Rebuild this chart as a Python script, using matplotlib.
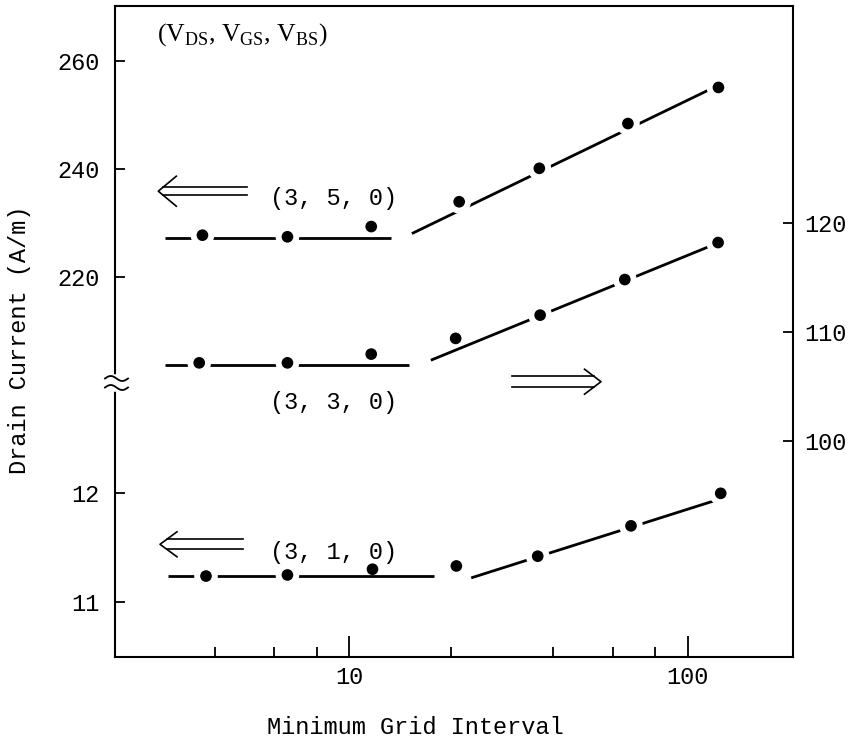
import numpy as np
import matplotlib
matplotlib.use("Agg")
import matplotlib.pyplot as plt
from matplotlib.lines import Line2D
from matplotlib.ticker import FixedLocator, FixedFormatter, NullFormatter

# ---------------- data ----------------
# minimum grid interval (x) for each series
x_350 = [3.68, 6.56, 11.6, 21.1, 36.4, 66.5, 123.1]
x_330 = [3.60, 6.56, 11.6, 20.6, 36.6, 65.1, 122.8]
x_310 = [3.77, 6.56, 11.7, 20.7, 36.0, 67.9, 125.0]

# drain current values
i_350 = [227.7, 227.4, 229.3, 233.9, 240.1, 248.4, 255.1]      # left upper scale (A/m)
i_330 = [107.16, 107.16, 107.96, 109.40, 111.53, 114.79, 118.18]  # right scale (A/m)
i_310 = [11.237, 11.247, 11.30, 11.33, 11.42, 11.70, 12.00]    # left lower scale (A/m)

# guide lines: flat part (x range, level) and sloped part (x pair, y pair)
flat_350_x, flat_350_y = [2.85, 13.3], [227.2, 227.2]
slope_350_x, slope_350_y = [15.3, 123.1], [228.0, 255.5]
flat_330_x, flat_330_y = [2.85, 15.0], [107.0, 107.0]
slope_330_x, slope_330_y = [17.4, 122.8], [107.4, 118.15]
flat_310_x, flat_310_y = [2.91, 17.8], [11.24, 11.24]
slope_310_x, slope_310_y = [22.9, 125.0], [11.22, 11.95]

labels = ["(3, 5, 0)", "(3, 3, 0)", "(3, 1, 0)"]

x_major = [10, 100]
x_major_labels = ["10", "100"]
x_minor = [4, 6, 8, 20, 40, 60, 80]
y_upper_ticks = [220, 240, 260]
y_lower_ticks = [11, 12]
y_right_ticks = [100, 110, 120]

# ---------------- style ----------------
plt.rcParams["font.family"] = ["Liberation Mono", "DejaVu Sans Mono"]
plt.rcParams["mathtext.fontset"] = "custom"
plt.rcParams["mathtext.rm"] = "Liberation Serif"
FS = 17
W, H = 850, 743
fig = plt.figure(figsize=(8.5, 7.43), dpi=100)
L, R, T, B = 115, 792.7, 6, 656.7
ax = fig.add_axes([L / W, 1 - B / H, (R - L) / W, (B - T) / H])
axC = ax.twinx()
axB = ax.twinx()

ax.set_xscale("log")
ax.set_xlim(2.03, 204)
ax.set_ylim(149.53, 270.2)
axC.set_ylim(10.493, 16.495)
axB.set_ylim(80.24, 139.85)

for a in (axC, axB):
    for s in a.spines.values():
        s.set_visible(False)
for s in ax.spines.values():
    s.set_linewidth(1.5)

# x ticks
ax.xaxis.set_major_locator(FixedLocator(x_major))
ax.xaxis.set_major_formatter(FixedFormatter(x_major_labels))
ax.xaxis.set_minor_locator(FixedLocator(x_minor))
ax.xaxis.set_minor_formatter(NullFormatter())
ax.tick_params(axis="x", which="major", direction="in", length=15, width=1.3,
               labelsize=FS, pad=7, top=False)
ax.tick_params(axis="x", which="minor", direction="in", length=7, width=1.3, top=False)

# left upper scale
ax.yaxis.set_major_locator(FixedLocator(y_upper_ticks))
ax.yaxis.set_minor_locator(FixedLocator([]))
ax.tick_params(axis="y", which="major", direction="in", length=7.5, width=1.3,
               labelsize=FS, pad=11, left=True, right=False, labelleft=True, labelright=False)
# left lower scale
axC.yaxis.set_ticks_position("left")
axC.yaxis.set_major_locator(FixedLocator(y_lower_ticks))
axC.yaxis.set_minor_locator(FixedLocator([]))
axC.tick_params(axis="y", which="major", direction="in", length=7.5, width=1.3,
                labelsize=FS, pad=11, left=True, right=False, labelleft=True, labelright=False)
# right scale
axB.yaxis.set_major_locator(FixedLocator(y_right_ticks))
axB.yaxis.set_minor_locator(FixedLocator([]))
axB.tick_params(axis="y", which="major", direction="in", length=7.5, width=1.3,
                labelsize=FS, pad=8, left=False, right=True, labelleft=False, labelright=True)

series = [
    (ax, x_350, i_350, flat_350_x, flat_350_y, slope_350_x, slope_350_y, [2]),
    (axB, x_330, i_330, flat_330_x, flat_330_y, slope_330_x, slope_330_y, [2, 3]),
    (axC, x_310, i_310, flat_310_x, flat_310_y, slope_310_x, slope_310_y, [2, 3]),
]
for a, xs, ys, fx, fy, sx, sy, skip in series:
    a.plot(fx, fy, color="black", lw=2.0, solid_capstyle="butt", zorder=2)
    a.plot(sx, sy, color="black", lw=2.0, solid_capstyle="butt", zorder=2)
    hx = [v for i, v in enumerate(xs) if i not in skip]
    hy = [v for i, v in enumerate(ys) if i not in skip]
    a.scatter(hx, hy, s=17.0 ** 2, c="white", edgecolors="none", zorder=3)
    a.scatter(xs, ys, s=8.4 ** 2, c="black", edgecolors="none", zorder=4)


def P(x, y):
    return (x / W, 1 - y / H)


# axis-break symbol on the left spine
bx = L
fig.add_artist(Line2D([P(bx, 377)[0]] * 2, [P(bx, 377)[1], P(bx, 389)[1]],
                      color="white", lw=4, transform=fig.transFigure, zorder=5))
t = np.linspace(0, 1, 40)
for yc in (378.5, 387.5):
    xs_ = 105 + 23 * t
    ys_ = yc - 2.5 * np.sin(2 * np.pi * t)
    fig.add_artist(Line2D(xs_ / W, 1 - ys_ / H, color="black", lw=1.3,
                          transform=fig.transFigure, zorder=6))


def double_arrow(x_tail, x_tip, yc, gap, hdx, hdy):
    s = np.sign(x_tip - x_tail)
    kw = dict(color="black", lw=1.2, transform=fig.transFigure, zorder=6)
    hx = [x_tip - s * hdx, x_tip, x_tip - s * hdx]
    hy = [yc - hdy, yc, yc + hdy]
    fig.add_artist(Line2D(np.array(hx) / W, 1 - np.array(hy) / H, **kw))
    xs0 = x_tip - s * hdx * (gap / 2) / hdy
    for yy in (yc - gap / 2, yc + gap / 2):
        fig.add_artist(Line2D(np.array([xs0, x_tail]) / W, 1 - np.array([yy, yy]) / H, **kw))


double_arrow(246.7, 158.3, 191.2, 7.7, 18, 15)
double_arrow(243.3, 160.0, 544.3, 10.0, 17, 12.5)
double_arrow(511.7, 601.0, 381.7, 11.0, 16.5, 12.5)

# texts
fig.text(*P(157, 35), r"(V$_{\mathrm{DS}}$, V$_{\mathrm{GS}}$, V$_{\mathrm{BS}}$)",
         family="Liberation Serif", fontsize=18.5, ha="left", va="center")
for lab, yy in zip(labels, (199, 402, 552.3)):
    fig.text(*P(270, yy), lab, fontsize=FS, ha="left", va="center")
fig.text(*P(20, 340), "Drain Current (A/m)", rotation=90, fontsize=FS,
         ha="center", va="center")
fig.text(*P(415, 727), "Minimum Grid Interval", fontsize=FS, ha="center", va="center")

fig.savefig("out.png", dpi=100, facecolor="white")
